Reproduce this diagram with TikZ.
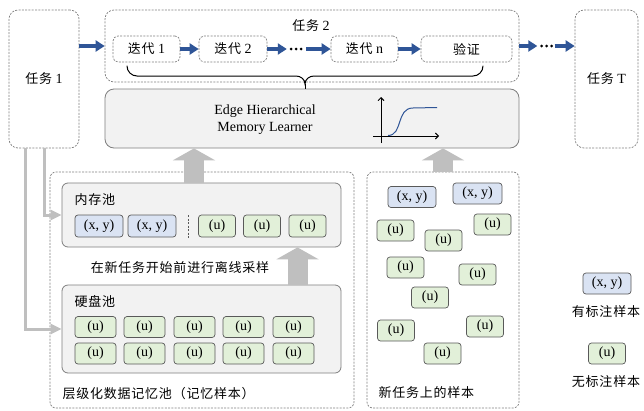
\documentclass[tikz,border=0pt]{standalone}
\usepackage{fontspec}
\setmainfont{Liberation Serif}
\newfontfamily\cjk[LetterSpace=6]{Noto Sans CJK SC}
\usetikzlibrary{arrows.meta}
\definecolor{blueA}{HTML}{2F5597}
\definecolor{lblue}{HTML}{DAE3F3}
\definecolor{lgreen}{HTML}{E2F0D9}
\definecolor{boxgray}{HTML}{F2F2F2}
\definecolor{bordergray}{HTML}{7F7F7F}
\definecolor{dashgray}{HTML}{808080}
\definecolor{arrgray}{HTML}{BFBFBF}
\definecolor{smallborder}{HTML}{595959}
\newcommand\zhtxt[1]{{\cjk\fontsize{13}{15}\selectfont #1}}
\tikzset{
  sz/.style 2 args={minimum width=#1pt,minimum height=#2pt,inner sep=0pt},
  dbox/.style={draw=dashgray, dash pattern=on 2pt off 1.3pt, line width=0.7pt, rounded corners=9pt},
  dboxs/.style={draw=dashgray, dash pattern=on 2pt off 1.3pt, line width=0.7pt, rounded corners=5pt},
  gbox/.style={draw=bordergray, fill=boxgray, line width=0.8pt, rounded corners=6pt},
  lab/.style={draw=smallborder, fill=lblue, line width=0.7pt, rounded corners=3pt},
  unl/.style={draw=smallborder, fill=lgreen, line width=0.7pt, rounded corners=3pt},
  bluearr/.style={draw=blueA, line width=3.5pt, -{Triangle[length=9pt,width=11pt]}},
  grayarr/.style={draw=arrgray, line width=3pt, -{Triangle[length=11pt,width=10pt]}},
  bigarr/.style={draw=arrgray, line width=20pt, -{Triangle[length=12pt,width=42pt]}},
  dotsnode/.style={inner sep=0pt, minimum width=14pt, minimum height=4pt},
}
\begin{document}
\begin{tikzpicture}[x=1pt,y=-1pt, font=\fontsize{14}{17}\selectfont]
\fill[white] (0,0) rectangle (644,410);
\useasboundingbox (0,0) rectangle (644,410);

% tasks
\node[dbox, sz={70}{138}] (t1) at (44,79) {\zhtxt{任务} 1};
\node[dbox, sz={414}{72}] (t2) at (312,46) {};
\node (t2lab) at (311,26) {\zhtxt{任务} 2};
\node[dbox, sz={63}{138}] (tT) at (606.5,79) {\zhtxt{任务} T};

% iterations
\node[dboxs, sz={67}{26}] (it1) at (146.5,49) {\zhtxt{迭代} 1};
\node[dboxs, sz={68}{26}] (it2) at (233,49) {\zhtxt{迭代} 2};
\node[dotsnode] (d1) at (296,49) {};
\foreach \dx in {-5,0,5} \fill ([xshift=\dx pt]d1.center) circle (1.5pt);
\node[dboxs, sz={67}{26}] (itn) at (364.5,49) {\zhtxt{迭代} n};
\node[dboxs, sz={91}{26}] (val) at (466.5,49) {\zhtxt{验证}};

\node[dotsnode] (d2) at (546.5,46) {};
\foreach \dx in {-5,0,5} \fill ([xshift=\dx pt]d2.center) circle (1.5pt);

\draw[bluearr] (t1.east |- t2.west) -- (t2.west);
\draw[bluearr] (it1.east) -- (it2.west);
\draw[bluearr] (it2.east) -- ([xshift=-2pt]d1.west);
\draw[bluearr] ([xshift=3pt]d1.east) -- (itn.west);
\draw[bluearr] (itn.east) -- (val.west);
\draw[bluearr] (t2.east) -- ([xshift=-2pt]d2.west);
\draw[bluearr] ([xshift=1pt]d2.east) -- (d2.east -| tT.west);

% brace
\draw[line width=1pt, line cap=round] (127,66) to[out=-90,in=180] (137,76) -- (296,76)
  to[out=0,in=90] (305,84) to[out=90,in=180] (314,76) -- (473,76) to[out=0,in=-90] (483,66);

% edge learner
\node[gbox, rounded corners=9pt, sz={414}{59}] (edge) at (312,118.5) {};
\draw[line width=1pt] (305,84) -- (edge.north -| 305,0);
\node[align=center, font=\fontsize{14}{17}\selectfont] (edgelab) at (265,120) {Edge Hierarchical\\Memory Learner};
\draw[line width=0.9pt, -{Straight Barb[length=3pt,width=6pt]}] (381,143) -- (381,97);
\draw[line width=0.9pt, -{Straight Barb[length=3pt,width=6pt]}] (373,136) -- (439,136);
\draw[blueA, line width=1pt] (388,135.5) .. controls (403,135.5) and (396,108) .. (413,108) -- (437,107.5);

% hierarchical pool
\node[dboxs, rounded corners=6pt, sz={304}{236}] (hier) at (202,290) {};
\node[anchor=west] (hierlab) at (59,394) {\zhtxt{层级化数据记忆池（记忆样本）}};
\node[gbox, sz={279}{64}] (mem) at (201.5,215) {};
\node[anchor=west] (memlab) at (71,200) {\zhtxt{内存池}};
\node[lab, sz={48}{22}] (m1) at (99,226) {(x, y)};
\node[lab, sz={48}{22}] (m2) at (152,226) {(x, y)};
\draw[line width=1pt, dash pattern=on 2pt off 1.5pt, smallborder] (188,215) -- (188,238);
\node[unl, sz={37}{22}] (m3) at (217,226) {(u)};
\node[unl, sz={37}{22}] (m4) at (262,226) {(u)};
\node[unl, sz={37}{22}] (m5) at (307.5,226) {(u)};

\node (samplab) at (180,268) {\zhtxt{在新任务开始前进行离线采样}};

\node[gbox, sz={279}{88}] (disk) at (201.5,329) {};
\node[anchor=west] (disklab) at (71,301) {\zhtxt{硬盘池}};
\foreach \cx [count=\i] in {95.5,144.5,194.5,243.5,293.5} {
  \node[unl, sz={41}{21}] (da\i) at (\cx,327) {(u)};
  \node[unl, sz={41}{21}] (db\i) at (\cx,353.5) {(u)};
}

% new task samples
\node[dboxs, rounded corners=6pt, sz={152}{236}] (new) at (443,290) {};
\node[anchor=west] (newlab) at (375,393) {\zhtxt{新任务上的样本}};
\node[lab, sz={48}{21}] (n1) at (412,197) {(x, y)};
\node[lab, sz={49}{21}] (n2) at (477.5,193.5) {(x, y)};
\foreach \cx/\cy [count=\i] in {395.5/230.5, 443.5/240.5, 492.5/224.5, 405.5/267.5, 477.5/274.5, 430/297.5, 396/330.5, 485/326.5, 442.5/353.5}
  \node[unl, sz={37}{21}] (nu\i) at (\cx,\cy) {(u)};

% legend
\node[lab, sz={48}{21}] (lg1) at (607,283.5) {(x, y)};
\node (lg1lab) at (606,312) {\zhtxt{有标注样本}};
\node[unl, sz={37}{21}] (lg2) at (607,353.5) {(u)};
\node (lg2lab) at (606,382) {\zhtxt{无标注样本}};

% gray arrows
\coordinate (a1) at (194,0);
\coordinate (a2) at (443,0);
\coordinate (a3) at (297.5,0);
\draw[bigarr] (mem.north -| a1) -- (edge.south -| a1);
\draw[bigarr] (new.north -| a2) -- (edge.south -| a2);
\draw[bigarr] (disk.north -| a3) -- (mem.south -| a3);
\draw[grayarr] (t1.south) |- (mem.west);
\draw[grayarr] ([xshift=-19pt]t1.south) |- (disk.west);
\end{tikzpicture}
\end{document}
